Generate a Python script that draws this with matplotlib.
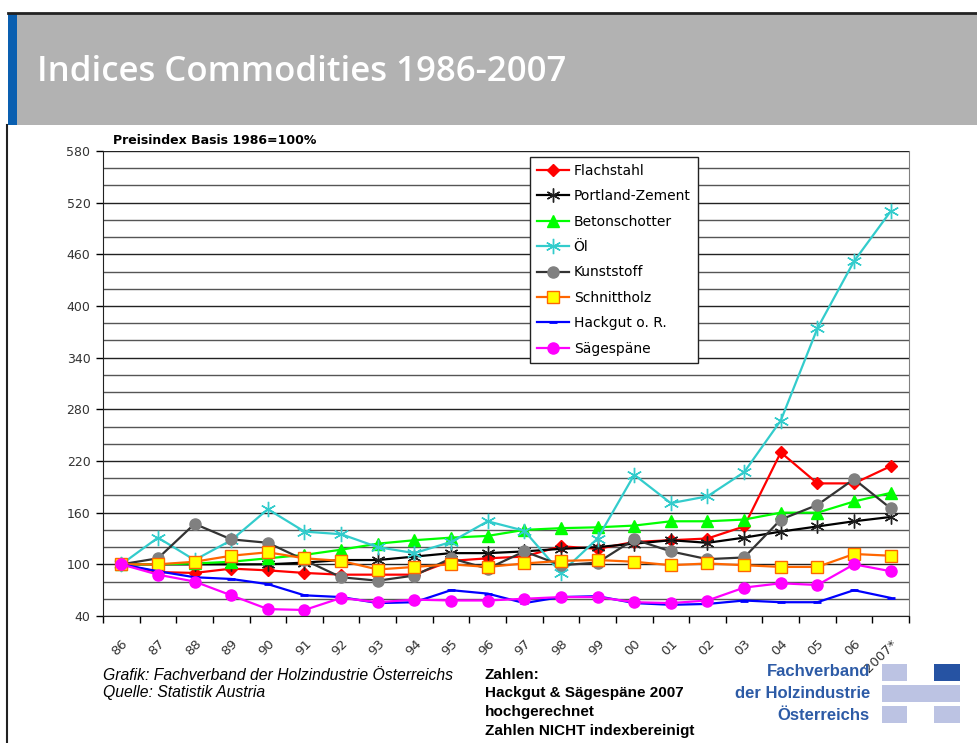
import matplotlib
matplotlib.use('Agg')
import matplotlib.pyplot as plt
from matplotlib.patches import Rectangle
from matplotlib.lines import Line2D

# Daten (Preisindex, Basis 1986 = 100)
jahre = ['86', '87', '88', '89', '90', '91', '92', '93', '94', '95', '96',
         '97', '98', '99', '00', '01', '02', '03', '04', '05', '06', '2007*']

flachstahl = [100, 91, 90, 95, 93, 90, 88, 88, 88, 104, 107, 109, 121, 118,
              126, 128, 130, 144, 230, 194, 194, 214]
portland = [100, 100, 100, 100, 100, 102, 105, 105, 109, 113, 113, 115, 118,
            120, 124, 128, 125, 131, 138, 144, 150, 155]
betonschotter = [100, 100, 101, 103, 107, 111, 117, 124, 128, 131, 133, 140,
                 142, 143, 145, 150, 150, 152, 160, 160, 173, 183]
oel = [100, 131, 105, 128, 164, 138, 135, 120, 113, 126, 150, 139, 90, 130,
       204, 171, 179, 207, 267, 374, 452, 510]
kunststoff = [100, 107, 147, 129, 125, 105, 85, 81, 87, 107, 95, 115, 99, 102,
              129, 115, 106, 108, 152, 169, 199, 165]
schnittholz = [100, 100, 103, 110, 114, 107, 104, 94, 97, 100, 97, 101, 104,
               105, 103, 99, 101, 99, 97, 97, 112, 110]
hackgut = [100, 92, 85, 83, 77, 64, 62, 55, 56, 70, 66, 55, 62, 63, 55, 53,
           54, 58, 56, 56, 70, 61]
saegespaene = [100, 88, 80, 64, 48, 47, 61, 56, 59, 58, 58, 60, 62, 62, 56,
               55, 58, 73, 78, 76, 100, 92]

fig = plt.figure(figsize=(9.78, 7.43), dpi=100)

# Kopfzeile
fig.patches.append(Rectangle((17/978, 1-125/743), 1, 112/743, transform=fig.transFigure,
                             facecolor='#b2b2b2', edgecolor='none'))
fig.patches.append(Rectangle((8/978, 1-125/743), 9/978, 112/743, transform=fig.transFigure,
                             facecolor='#0a5fb0', edgecolor='none'))
fig.lines.append(Line2D([8/978, 1], [1-13/743, 1-13/743], transform=fig.transFigure,
                        color='#222222', lw=2))
fig.lines.append(Line2D([7/978, 7/978], [0, 1-125/743], transform=fig.transFigure,
                        color='#222222', lw=1.5))
fig.text(37/978, 1-72/743, 'Indices Commodities 1986-2007', color='white', fontsize=25,
         fontweight='semibold', family=['Open Sans', 'DejaVu Sans'],
         va='center', ha='left')

ax = fig.add_axes([103/978, 1-616/743, 806/978, 465/743])
x = list(range(len(jahre)))

ax.plot(x, flachstahl, color='#ff0000', lw=1.6, marker='D', ms=6, mfc='#ff0000',
        mec='#ff0000', label='Flachstahl')
ax.plot(x, portland, color='#000000', lw=1.6, marker=(6, 2, 0), ms=10, mec='#202020',
        mew=1, label='Portland-Zement')
ax.plot(x, betonschotter, color='#00ff00', lw=1.6, marker='^', ms=8, mfc='#00ff00',
        mec='#00ff00', label='Betonschotter')
ax.plot(x, oel, color='#33cccc', lw=1.6, marker=(6, 2, 0), ms=11, mec='#33cccc',
        mew=1, label='Öl')
ax.plot(x, kunststoff, color='#333333', lw=1.6, marker='o', ms=8, mfc='#808080',
        mec='#808080', label='Kunststoff')
ax.plot(x, schnittholz, color='#ff6600', lw=1.6, marker='s', ms=8, mfc='#ffff00',
        mec='#ff6600', label='Schnittholz')
ax.plot(x, hackgut, color='#0000ff', lw=1.6, marker='_', ms=6, mec='#0000ff',
        mew=2, label='Hackgut o. R.')
ax.plot(x, saegespaene, color='#ff00ff', lw=1.6, marker='o', ms=8, mfc='#ff00ff',
        mec='#ff00ff', label='Sägespäne')

ax.set_ylim(40, 580)
ax.set_xlim(-0.5, len(jahre) - 0.5)
ax.set_yticks(range(40, 581, 60))
ax.set_yticks(range(40, 581, 20), minor=True)
ax.grid(True, which='major', axis='y', color='#222222', lw=1)
ax.grid(True, which='minor', axis='y', color='#555555', lw=1)
ax.tick_params(axis='y', which='major', labelsize=9, length=5, width=1, pad=4,
               labelcolor='#333333')
ax.tick_params(axis='y', which='minor', length=0)
ax.set_xticks(x)
ax.set_xticklabels(jahre, rotation=45, ha='right', rotation_mode='anchor', fontsize=9.5,
                   color='#333333')
ax.tick_params(axis='x', which='major', length=0, pad=15)
ax.set_xticks([i - 0.5 for i in range(len(jahre) + 1)], minor=True)
ax.tick_params(axis='x', which='minor', length=5, width=1)
ax.set_axisbelow(True)
ax.spines['top'].set_visible(False)
ax.spines['right'].set_color('#808080')
ax.spines['left'].set_color('#222222')
ax.spines['bottom'].set_color('#222222')

fig.text(113/978, 1-140/743, 'Preisindex Basis 1986=100%', fontsize=9, fontweight='bold',
         va='center', ha='left')

leg = ax.legend(loc='upper left', bbox_to_anchor=(530/978, 1-157/743),
                bbox_transform=fig.transFigure, fontsize=10, frameon=True, fancybox=False,
                framealpha=1, edgecolor='#222222', labelspacing=0.82, handlelength=2.3,
                handletextpad=0.35, borderpad=0.5, borderaxespad=0)
leg.get_frame().set_linewidth(1)

# Fusszeile
fuss = ['Liberation Sans', 'DejaVu Sans']
fig.text(103/978, 1-675/743, 'Grafik: Fachverband der Holzindustrie Österreichs',
         fontsize=11.3, style='italic', family=fuss, va='center')
fig.text(103/978, 1-693/743, 'Quelle: Statistik Austria', fontsize=11.3, style='italic',
         family=fuss, va='center')
hinweis = ['Zahlen:', 'Hackgut & Sägespäne 2007', 'hochgerechnet', 'Zahlen NICHT indexbereinigt']
for i, t in enumerate(hinweis):
    fig.text(485/978, 1-(675 + i*18.5)/743, t, fontsize=11, fontweight='bold',
             family=fuss, va='center')

# Logo
logo_farbe = '#2d5ba6'
logo = ['Fachverband', 'der Holzindustrie', 'Österreichs']
for t, yy in zip(logo, [672, 694, 716]):
    fig.text(870/978, 1-yy/743, t, fontsize=12, fontweight='bold', color=logo_farbe,
             family=['Liberation Sans', 'DejaVu Sans'],
             ha='right', va='center')
hell = '#bcc3e3'
for (x0, y0, w, h, c) in [(882, 664, 25, 17, hell), (934, 664, 26, 17, '#2653a3'),
                          (882, 685, 78, 17, hell), (882, 706, 25, 17, hell),
                          (934, 706, 26, 17, hell)]:
    fig.patches.append(Rectangle((x0/978, 1-(y0+h)/743), w/978, h/743,
                                 transform=fig.transFigure, facecolor=c, edgecolor='none'))

fig.savefig('out.png', dpi=100)
